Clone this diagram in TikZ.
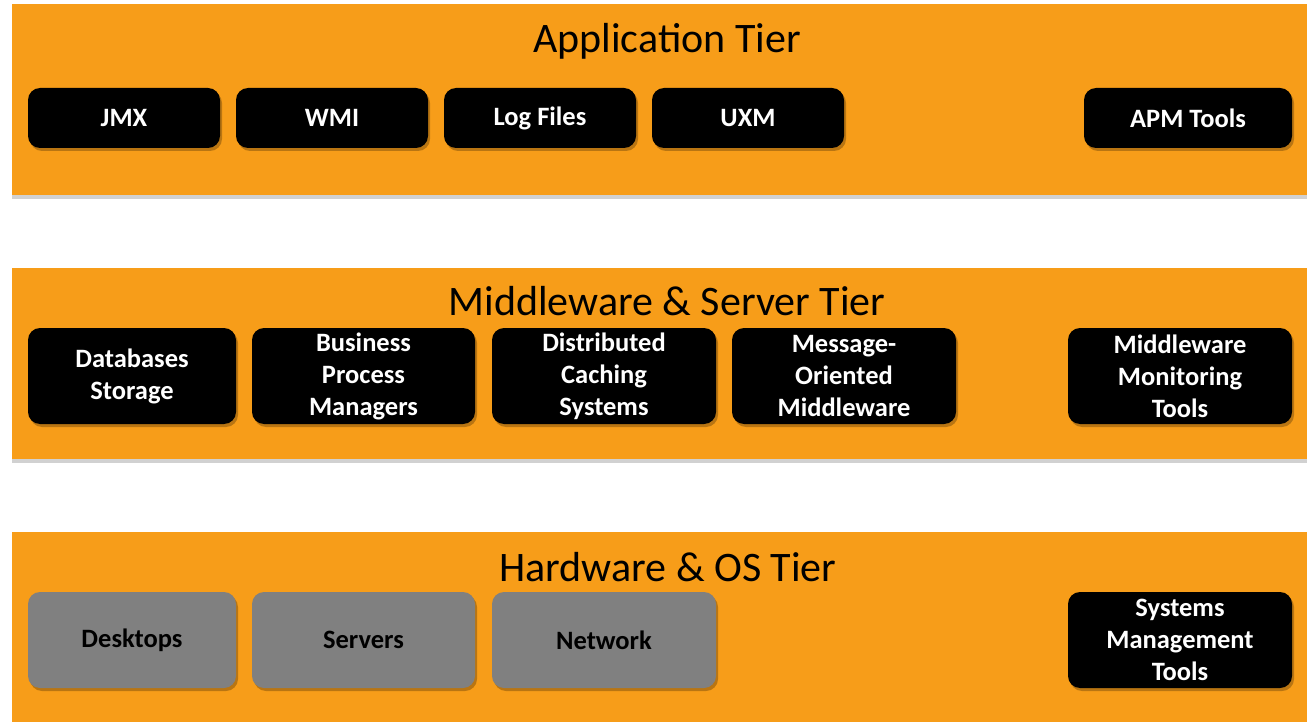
\documentclass[tikz,border=0pt]{standalone}
\usepackage{fontspec}
\setmainfont{Carlito}
\usetikzlibrary{shadows}
\definecolor{tierorange}{HTML}{F79D19}
\definecolor{boxgrey}{HTML}{808080}
\tikzset{
  band/.style={fill=tierorange, draw=none, inner sep=0pt,
    drop shadow={shadow xshift=0pt, shadow yshift=-4pt, opacity=0.18, fill=black}},
  tiertitle/.style={anchor=base, font=\fontsize{42}{50}\selectfont, text=black, inner sep=0pt},
  itembox/.style={fill=black, text=white, rounded corners=12pt, inner sep=0pt,
    align=center, font=\fontsize{26.5}{32}\selectfont\bfseries,
    drop shadow={shadow xshift=2pt, shadow yshift=-3pt, opacity=0.25, fill=black}},
  greybox/.style={itembox, fill=boxgrey, text=black},
}
\begin{document}
\begin{tikzpicture}[x=1pt, y=-1pt]
\useasboundingbox (0,0) rectangle (1307,722);
\clip (0,0) rectangle (1307,722);
% bands
\node[band, minimum width=1308pt, minimum height=191pt] (app) at (666,99.5) {};
\node[band, minimum width=1308pt, minimum height=191pt] (mid) at (666,363.5) {};
\node[band, minimum width=1308pt, minimum height=198pt] (hw) at (666,631) {};
% titles
\node[tiertitle] (appt) at (667,53) {Application Tier};
\node[tiertitle] (midt) at (667,316) {Middleware \& Server Tier};
\node[tiertitle] (hwt) at (668,581) {Hardware \& OS Tier};
% application tier
\node[itembox, minimum width=192pt, minimum height=60pt] (jmx) at (124,118) {JMX};
\node[itembox, minimum width=192pt, minimum height=60pt] (wmi) at (332,118) {WMI};
\node[itembox, minimum width=192pt, minimum height=60pt] (log) at (540,118) {Log Files};
\node[itembox, minimum width=192pt, minimum height=60pt] (uxm) at (748,118) {UXM};
\node[itembox, minimum width=208pt, minimum height=60pt] (apm) at (1188,118) {APM Tools};
% middleware tier
\node[itembox, minimum width=208pt, minimum height=96pt] (db) at (132,376) {Databases\\Storage};
\node[itembox, minimum width=223pt, minimum height=96pt] (bpm) at (363.5,376) {Business\\Process\\Managers};
\node[itembox, minimum width=224pt, minimum height=96pt] (dcs) at (604,376) {Distributed\\Caching\\Systems};
\node[itembox, minimum width=224pt, minimum height=96pt] (mom) at (844,376) {Message-\\Oriented\\Middleware};
\node[itembox, minimum width=224pt, minimum height=96pt] (mmt) at (1180,376) {Middleware\\Monitoring\\Tools};
% hardware tier
\node[greybox, minimum width=208pt, minimum height=96pt] (desk) at (132,640) {Desktops};
\node[greybox, minimum width=223pt, minimum height=96pt] (srv) at (363.5,640) {Servers};
\node[greybox, minimum width=224pt, minimum height=96pt] (net) at (604,640) {Network};
\node[itembox, minimum width=224pt, minimum height=96pt] (smt) at (1180,640) {Systems\\Management\\Tools};
\end{tikzpicture}
\end{document}
